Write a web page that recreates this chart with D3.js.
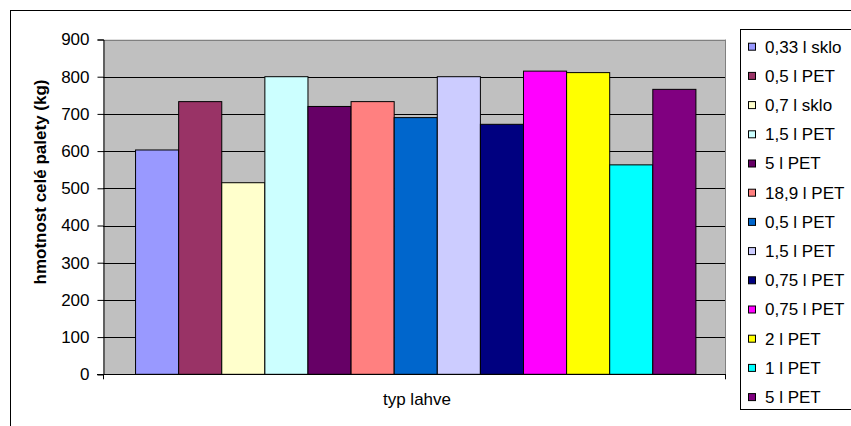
<!DOCTYPE html>
<html><head><meta charset="utf-8">
<script src="https://cdn.jsdelivr.net/npm/d3@7"></script>
<style>body{margin:0;background:#fff}svg{display:block;font-family:"Liberation Sans",Arial,sans-serif}</style>
</head><body><svg id="c" width="851" height="426"></svg>
<script>
const series = ["0,33 l sklo","0,5 l PET","0,7 l sklo","1,5 l PET","5 l PET","18,9 l PET","0,5 l PET","1,5 l PET","0,75 l PET","0,75 l PET","2 l PET","1 l PET","5 l PET"];
const values = [603, 733, 515, 800, 720, 733, 690, 800, 672, 815, 811, 563, 766];
const colors = ["#9999FF","#993366","#FFFFCC","#CCFFFF","#660066","#FF8080","#0066CC","#CCCCFF","#000080","#FF00FF","#FFFF00","#00FFFF","#800080"];
const yTicks = [0,100,200,300,400,500,600,700,800,900];
const categories = [""];
const yTitle = "hmotnost celé palety (kg)";
const xTitle = "typ lahve";

const svg = d3.select("#c");
// outer chart border
svg.append("rect").attr("x",10.5).attr("y",10.5).attr("width",900).attr("height",500)
  .attr("fill","#fff").attr("stroke","#000").attr("stroke-width",1);

const L=103, T=39.5, R=725, B=374.3;
const y = d3.scaleLinear().domain([0,900]).range([B,T]);
const x0 = d3.scaleBand().domain(categories).range([L,R]).paddingOuter(0.055).align(0.52);
const x1 = d3.scaleBand().domain(d3.range(series.length)).range([0,x0.bandwidth()]);

svg.append("rect").attr("x",L).attr("y",T).attr("width",R-L).attr("height",B-T)
  .attr("fill","#C0C0C0");
// gridlines
svg.append("g").selectAll("line").data(yTicks.filter(d=>d>0)).join("line")
  .attr("x1",L).attr("x2",R).attr("y1",d=>Math.round(y(d))+0.5).attr("y2",d=>Math.round(y(d))+0.5)
  .attr("stroke",d=>d===900?"#808080":"#000").attr("stroke-width",1);
// right border
svg.append("line").attr("x1",R+0.5).attr("x2",R+0.5).attr("y1",T).attr("y2",B).attr("stroke","#808080");

// bars
svg.append("g").selectAll("rect").data(values).join("rect")
  .attr("x",(d,i)=>x0("")+x1(i)+0.5)
  .attr("y",d=>y(d))
  .attr("width",x1.bandwidth())
  .attr("height",d=>B-y(d))
  .attr("fill",(d,i)=>colors[i]).attr("stroke","#000").attr("stroke-width",1);

// y axis
const ya = d3.axisLeft(y).tickValues(yTicks).tickSize(6).tickPadding(8);
const gy = svg.append("g").attr("transform",`translate(${L+0.5},0)`).call(ya);
gy.select(".domain").attr("stroke","#000");
gy.selectAll(".tick line").attr("stroke","#000");
gy.selectAll("text").attr("font-size",17).attr("fill","#000").attr("font-family","Liberation Sans, Arial");

// x axis
const xa = svg.append("g");
xa.append("line").attr("x1",L-6).attr("x2",R+1).attr("y1",Math.round(B)+0.5).attr("y2",Math.round(B)+0.5).attr("stroke","#000");
xa.selectAll("line.t").data([L,R]).join("line").attr("class","t")
  .attr("x1",d=>d+0.5).attr("x2",d=>d+0.5).attr("y1",B).attr("y2",B+5).attr("stroke","#000");

svg.append("text").attr("x",(L+R)/2+3).attr("y",405).attr("text-anchor","middle")
  .attr("font-size",17).text(xTitle);
svg.append("text").attr("transform","translate(46,182) rotate(-90)").attr("text-anchor","middle")
  .attr("font-size",17).attr("font-weight","bold").text(yTitle);

// legend
svg.append("rect").attr("x",740.5).attr("y",29.5).attr("width",200).attr("height",380)
  .attr("fill","#fff").attr("stroke","#000");
const lg = svg.append("g").selectAll("g").data(series).join("g")
  .attr("transform",(d,i)=>`translate(748,${46.7+i*29.2})`);
lg.append("rect").attr("x",0.5).attr("y",-3.5).attr("width",7).attr("height",7)
  .attr("fill",(d,i)=>colors[i]).attr("stroke","#000");
lg.append("text").attr("x",17).attr("y",0).attr("dy","0.35em").attr("font-size",17).text(d=>d);
</script></body></html>
